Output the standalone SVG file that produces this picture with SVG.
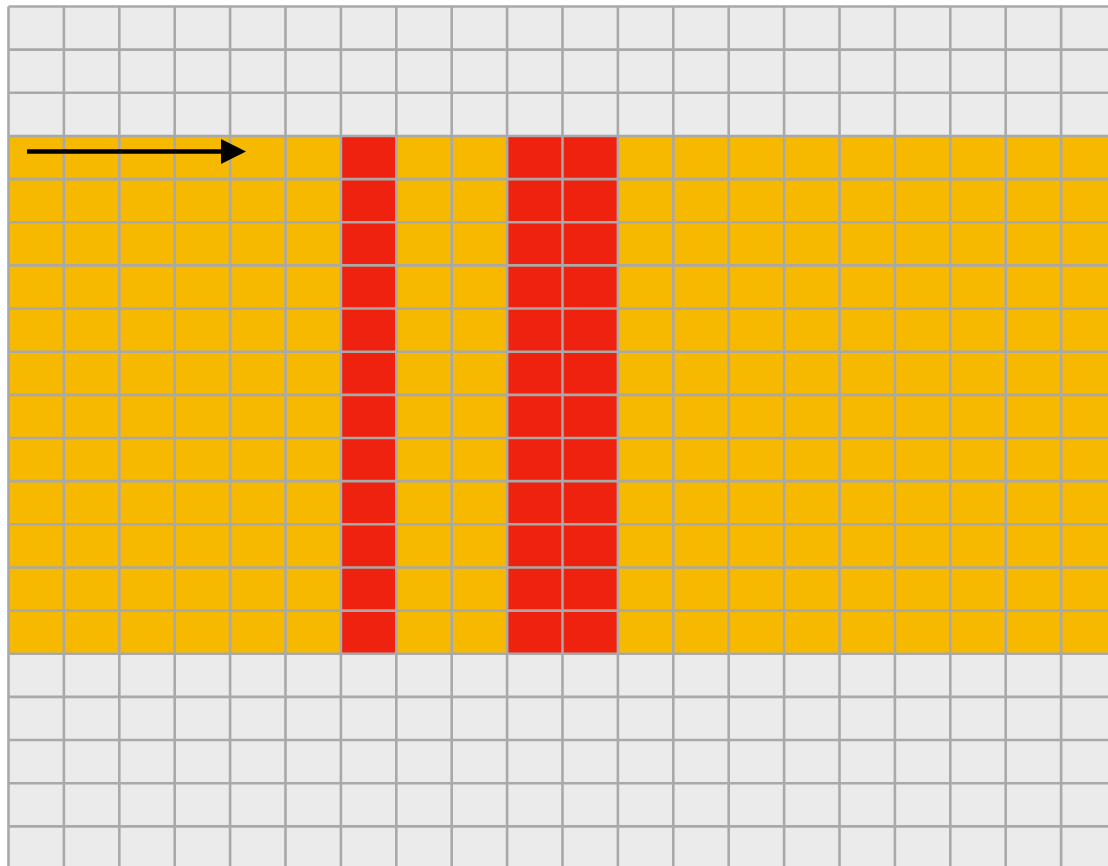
<svg xmlns="http://www.w3.org/2000/svg" width="1108" height="866" viewBox="0 0 1108 866">
<style>
.grid{stroke:#a8a9a8;stroke-width:2.6;fill:none}
.gray{fill:#ebebeb}
.band{fill:#f7b900}
.red{fill:#ee220f}
</style>
<defs>
<marker id="ah" markerWidth="25" markerHeight="25" refX="0" refY="12.5" orient="auto" markerUnits="userSpaceOnUse" viewBox="0 0 25 25">
<path d="M0,0 L25,12.5 L0,25 Z" fill="#000"/>
</marker>
</defs>
<rect width="1108" height="866" fill="#ffffff"/>
<g id="cells">
<rect class="gray" x="8.5" y="6.5" width="1100" height="860"/>
<rect class="band" x="8.5" y="135.95" width="1100" height="517.8"/>
<rect class="red" x="340.9" y="135.95" width="55.4" height="517.8"/>
<rect class="red" x="507.1" y="135.95" width="110.8" height="517.8"/>
</g>
<g id="grid">
<path class="grid" d="M8.5,6.5V866 M63.9,6.5V866 M119.3,6.5V866 M174.7,6.5V866 M230.1,6.5V866 M285.5,6.5V866 M340.9,6.5V866 M396.3,6.5V866 M451.7,6.5V866 M507.1,6.5V866 M562.5,6.5V866 M617.9,6.5V866 M673.3,6.5V866 M728.7,6.5V866 M784.1,6.5V866 M839.5,6.5V866 M894.9,6.5V866 M950.3,6.5V866 M1005.7,6.5V866 M1061.1,6.5V866 M8.5,6.5H1108 M8.5,49.65H1108 M8.5,92.8H1108 M8.5,135.95H1108 M8.5,179.1H1108 M8.5,222.25H1108 M8.5,265.4H1108 M8.5,308.55H1108 M8.5,351.7H1108 M8.5,394.85H1108 M8.5,438H1108 M8.5,481.15H1108 M8.5,524.3H1108 M8.5,567.45H1108 M8.5,610.6H1108 M8.5,653.75H1108 M8.5,696.9H1108 M8.5,740.05H1108 M8.5,783.2H1108 M8.5,826.35H1108"/>
</g>
<g id="connectors">
<line x1="27" y1="151.5" x2="221" y2="151.5" stroke="#000" stroke-width="4.5" marker-end="url(#ah)"/>
</g>
</svg>
